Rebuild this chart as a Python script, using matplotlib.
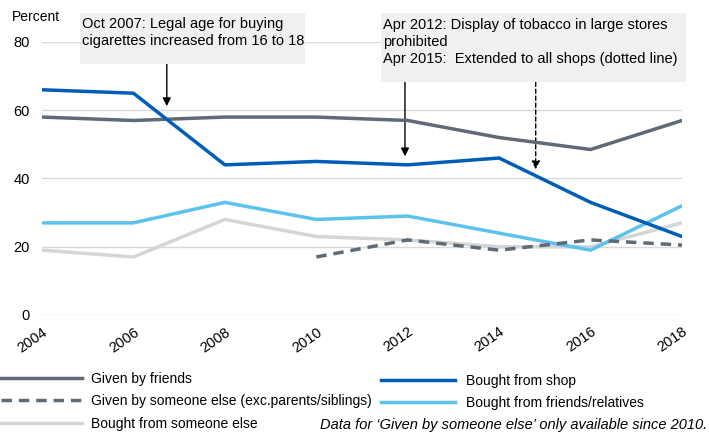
import matplotlib
matplotlib.use("Agg")
import matplotlib.pyplot as plt
from matplotlib.lines import Line2D

plt.rcParams['font.family'] = ['Liberation Sans', 'DejaVu Sans']

years = [2004, 2006, 2008, 2010, 2012, 2014, 2016, 2018]
given_friends = [58, 57, 58, 58, 57, 52, 48.5, 57]
bought_shop = [66, 65, 44, 45, 44, 46, 33, 23]
bought_friends_rel = [27, 27, 33, 28, 29, 24, 19, 32]
bought_someone = [19, 17, 28, 23, 22, 20, 20, 27]
given_someone_years = [2010, 2012, 2014, 2016, 2018]
given_someone = [17, 22, 19, 22, 20.5]

c_friends = '#5e6a75'
c_shop = '#005eb8'
c_frel = '#5bc2ec'
c_someone = '#d3d6d6'

fig = plt.figure(figsize=(7.09, 4.43), dpi=100)
ax = fig.add_axes([42 / 709, 1 - 315 / 443, 640 / 709, 273 / 443])

ax.plot(years, bought_someone, color=c_someone, lw=2.5, zorder=2)
ax.plot(years, bought_friends_rel, color=c_frel, lw=2.5, zorder=3)
ax.plot(years, given_friends, color=c_friends, lw=2.5, zorder=4)
ax.plot(years, bought_shop, color=c_shop, lw=2.5, zorder=5)
ax.plot(given_someone_years, given_someone, color=c_friends, lw=2.5,
        ls=(0, (3, 2)), zorder=4)

ax.set_xlim(2004, 2018)
ax.set_ylim(0, 80)
ax.set_yticks([0, 20, 40, 60, 80])
ax.set_xticks(years)
ax.set_xticklabels([str(y) for y in years], rotation=35, ha='right',
                   rotation_mode='anchor', fontsize=10.5)
ax.tick_params(axis='y', length=0, pad=9, labelsize=10.5)
ax.tick_params(axis='x', length=0, pad=7)
ax.grid(axis='y', color='#d9d9d9', lw=1)
ax.set_axisbelow(True)
for s in ax.spines.values():
    s.set_visible(False)

fig.text(12 / 709, 1 - 17 / 443, 'Percent', fontsize=10, va='center')

# annotation boxes
fig.patches.append(plt.Rectangle((80 / 709, 1 - 64 / 443), 225 / 709, 51 / 443,
                                 transform=fig.transFigure, fc='#f0f0f0', ec='none', zorder=6))
fig.text(82 / 709, 1 - 17 / 443, 'Oct 2007: Legal age for buying\ncigarettes increased from 16 to 18',
         fontsize=10.5, va='top', linespacing=1.3, zorder=7)
fig.patches.append(plt.Rectangle((381 / 709, 1 - 82 / 443), 305 / 709, 69 / 443,
                                 transform=fig.transFigure, fc='#f0f0f0', ec='none', zorder=6))
fig.text(383 / 709, 1 - 18 / 443,
         'Apr 2012: Display of tobacco in large stores\nprohibited\nApr 2015:  Extended to all shops (dotted line)',
         fontsize=10.5, va='top', linespacing=1.25, zorder=7)

arrow = dict(arrowstyle='-|>', color='black', lw=1, mutation_scale=12, shrinkA=0, shrinkB=0)
ax.annotate('', xy=(2006.73, 61.2), xytext=(2006.73, 73.6), arrowprops=arrow,
            annotation_clip=False)
ax.annotate('', xy=(2011.94, 46.5), xytext=(2011.94, 68.2), arrowprops=arrow,
            annotation_clip=False)
arrow2 = dict(arrow, ls=(0, (3, 2)))
ax.annotate('', xy=(2014.8, 42.7), xytext=(2014.8, 68.2), arrowprops=arrow2,
            annotation_clip=False)

# legend
leg_font = dict(fontsize=10, va='center')
col1 = [('Given by friends', c_friends, '-', 378),
        ('Given by someone else (exc.parents/siblings)', c_friends, (0, (3, 2)), 400),
        ('Bought from someone else', c_someone, '-', 423)]
col2 = [('Bought from shop', c_shop, '-', 380),
        ('Bought from friends/relatives', c_frel, '-', 402)]
for label, c, ls, y in col1:
    fig.add_artist(Line2D([1 / 709, 82 / 709], [1 - y / 443] * 2, color=c, lw=2.5, ls=ls))
    fig.text(91 / 709, 1 - (y + 1) / 443, label, **leg_font)
for label, c, ls, y in col2:
    fig.add_artist(Line2D([381 / 709, 455 / 709], [1 - y / 443] * 2, color=c, lw=2.5, ls=ls))
    fig.text(466 / 709, 1 - (y + 1) / 443, label, **leg_font)
fig.text(707 / 709, 1 - 425 / 443, "Data for \u2018Given by someone else\u2019 only available since 2010.",
         fontsize=10.5, style='italic', ha='right', va='center')

fig.savefig('out.png', dpi=100)
